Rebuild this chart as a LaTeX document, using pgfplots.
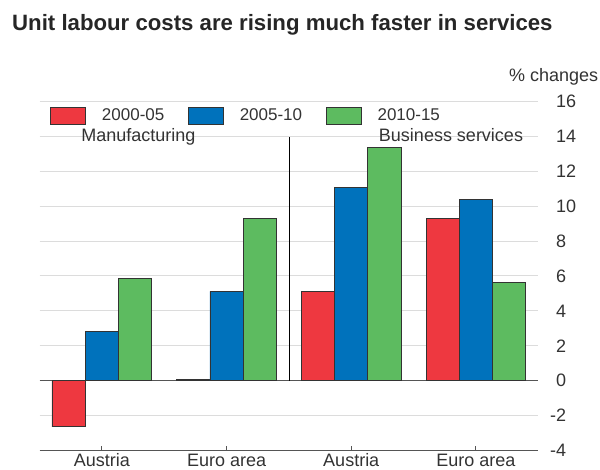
\documentclass[border=0pt]{standalone}
\usepackage{fontspec}
\setmainfont{Liberation Sans}
\usepackage{pgfplots}
\pgfplotsset{compat=1.18}
\definecolor{cred}{HTML}{EE3840}
\definecolor{cblue}{HTML}{0072BC}
\definecolor{cgreen}{HTML}{5DBB60}
\definecolor{txt}{HTML}{333333}
\definecolor{gridc}{HTML}{DCDCDC}
\definecolor{axc}{HTML}{555555}
\pgfplotsset{mylegend/.style={legend image code/.code={\draw[##1] (0bp,-8.5bp) rectangle (35bp,8.5bp);}}}
\begin{document}
\begin{tikzpicture}
\useasboundingbox (-39.5bp,-19.7bp) rectangle (560.5bp,450.3bp);
\begin{axis}[
  at={(0,0)}, anchor=south west,
  scale only axis, width=498.8bp, height=348.6bp,
  xmin=-0.5, xmax=3.5, ymin=-4, ymax=16,
  xtick={0,1,2,3}, xticklabels={Austria,Euro area,Austria,Euro area},
  ytick={-4,-2,...,16},
  yticklabels={\llap{-}4,\llap{-}2,0,2,4,6,8,10,12,14,16},
  axis x line*=bottom, axis y line*=right,
  x axis line style={draw=axc, line width=1.2bp},
  y axis line style={draw=none},
  ymajorgrids, grid style={draw=gridc, line width=1bp},
  extra y ticks={0}, extra y tick labels={},
  extra y tick style={grid style={draw=axc, line width=1.2bp}},
  major tick length=4bp,
  tick align=inside,
  xtick style={draw=axc, line width=1bp},
  ytick style={draw=none},
  xticklabel style={font=\fontsize{18bp}{21bp}\selectfont, text=txt, anchor=base, inner sep=0pt, yshift=-16.6bp},
  yticklabel style={font=\fontsize{18bp}{21bp}\selectfont, text=txt, anchor=west, inner sep=0pt, xshift=17.7bp},
  legend style={draw=none, fill=none, inner sep=0pt, at={(0.021,0.9596)}, anchor=west,
    font=\fontsize{17bp}{20bp}\selectfont, text=txt,
    /tikz/every odd column/.append style={column sep=16bp},
    /tikz/every even column/.append style={column sep=23.6bp},
    nodes={inner sep=0pt}},
  legend columns=3,
  legend cell align=left,
  clip=false,
]
\addplot[ybar, bar width=0.267, bar shift=-0.267, fill=cred, draw=txt, line width=0.8bp, mylegend] coordinates {(0,-2.65) (1,0.05) (2,5.12) (3,9.3)};
\addplot[ybar, bar width=0.267, bar shift=0, fill=cblue, draw=txt, line width=0.8bp, mylegend] coordinates {(0,2.8) (1,5.12) (2,11.08) (3,10.37)};
\addplot[ybar, bar width=0.267, bar shift=0.267, fill=cgreen, draw=txt, line width=0.8bp, mylegend] coordinates {(0,5.86) (1,9.3) (2,13.4) (3,5.65)};
\legend{2000-05,2005-10,2010-15}
\addplot[black, line width=0.8bp, sharp plot, no marks, forget plot] coordinates {(1.5,0) (1.5,14)};
\node[anchor=base, inner sep=0pt, font=\fontsize{18bp}{21bp}\selectfont, text=txt] at (axis cs:0.293,13.71) {Manufacturing};
\node[anchor=base, inner sep=0pt, font=\fontsize{18bp}{21bp}\selectfont, text=txt] at (axis cs:2.80,13.71) {Business services};
\end{axis}
\node[anchor=base west, inner sep=0pt, font=\bfseries\fontsize{22.2bp}{26bp}\selectfont, text=black!85] at (-27.5bp,419.3bp) {Unit labour costs are rising much faster in services};
\node[anchor=base east, inner sep=0pt, font=\fontsize{18bp}{21bp}\selectfont, text=txt] at (558.8bp,368.6bp) {\% changes};
\end{tikzpicture}
\end{document}
